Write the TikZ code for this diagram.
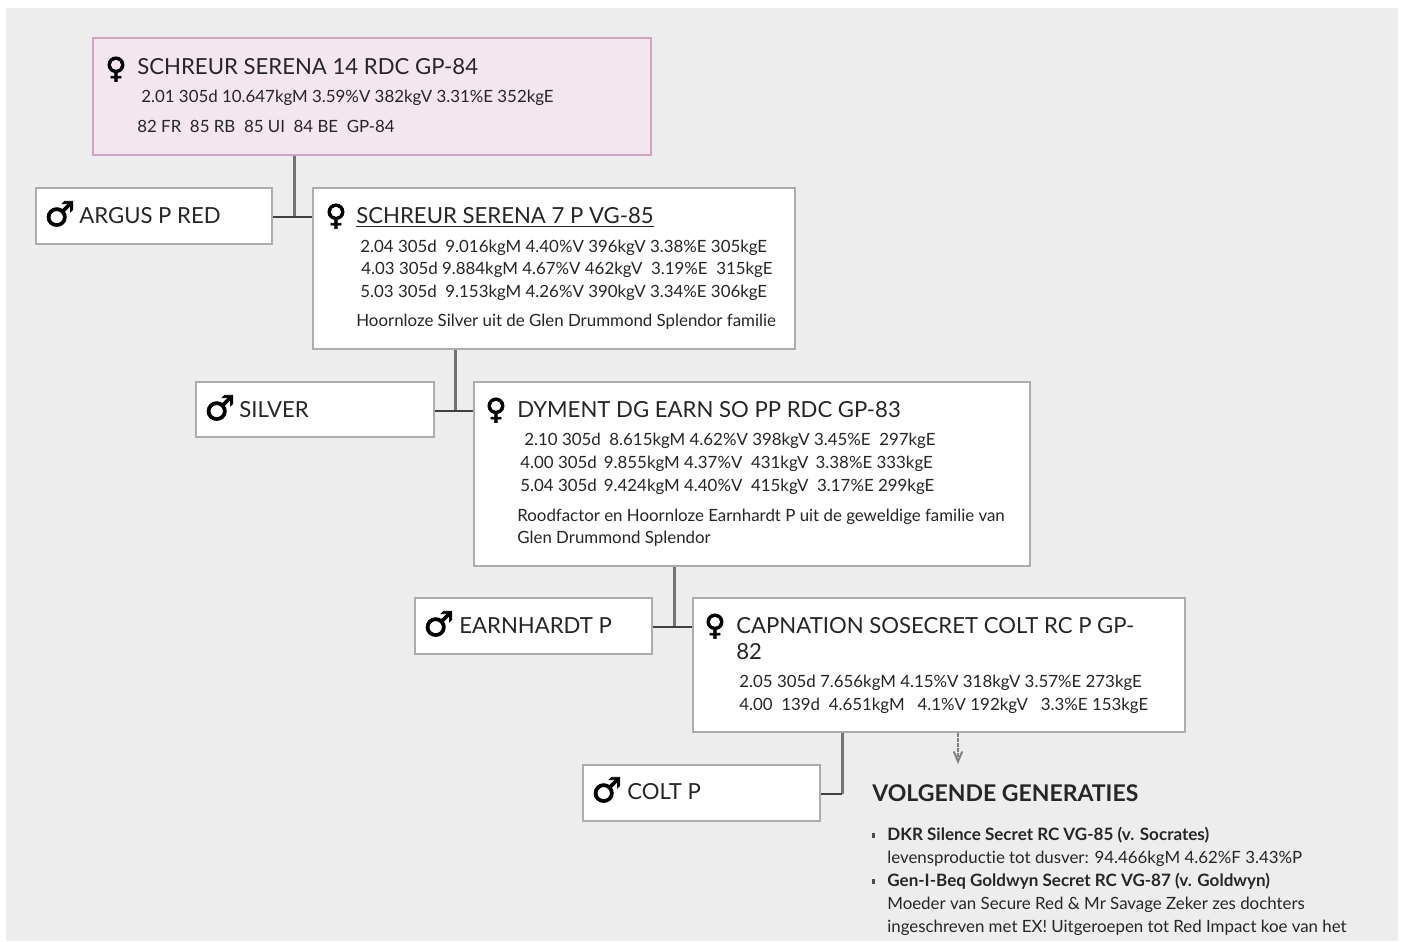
\documentclass[tikz,border=0pt]{standalone}
\usepackage{fontspec}
\setmainfont[Ligatures=NoCommon]{Lato}
\newfontfamily\symfont[FakeBold=2.2]{DejaVu Sans}
\usetikzlibrary{arrows}
\definecolor{pagegrey}{HTML}{EDEDED}
\definecolor{boxline}{HTML}{ADADAD}
\definecolor{pinkfill}{HTML}{F3E6EF}
\definecolor{pinkline}{HTML}{CFA2C6}
\definecolor{inktext}{HTML}{262626}
\tikzset{
  cowbox/.style={draw=boxline,fill=white,line width=0.04cm,inner sep=0pt},
  topbox/.style={cowbox,draw=pinkline,fill=pinkfill},
  titletext/.style={anchor=base west,inner sep=0pt,yshift=-0.015cm,text=inktext,font=\fontsize{12.6}{14}\selectfont},
  detailtext/.style={anchor=base west,inner sep=0pt,yshift=-0.015cm,text=inktext,font=\fontsize{9.6}{11}\selectfont},
  boldtext/.style={detailtext,font=\fontsize{9.7}{11}\bfseries\selectfont},
  femsign/.style={anchor=base west,inner sep=0pt,text=black,font=\symfont\fontsize{16.5}{18}\selectfont},
  malesign/.style={anchor=base west,inner sep=0pt,text=black,font=\symfont\fontsize{19.5}{21}\selectfont},
  stemline/.style={draw=black!55,line width=0.06cm},
  armline/.style={draw=black!75,line width=0.04cm}
}
\begin{document}
\begin{tikzpicture}[line cap=butt,>=angle 45,x=0.02cm,y=-0.02cm]
      \useasboundingbox (0,0) rectangle (1406,941);
      \fill[pagegrey] (6,8) rectangle (1398,941);
      % boxes
      \node[topbox,minimum width=11.18cm,minimum height=2.34cm] (serena14) at (372,96.5) {};
      \node[cowbox,minimum width=4.74cm,minimum height=1.12cm] (argus) at (154,216) {};
      \node[cowbox,minimum width=9.66cm,minimum height=3.22cm] (serena7) at (554,268.5) {};
      \node[cowbox,minimum width=4.76cm,minimum height=1.1cm] (silver) at (315,409.5) {};
      \node[cowbox,minimum width=11.14cm,minimum height=3.68cm] (dyment) at (752,474) {};
      \node[cowbox,minimum width=4.76cm,minimum height=1.12cm] (earnhardt) at (533.5,626) {};
      \node[cowbox,minimum width=9.86cm,minimum height=2.68cm] (capnation) at (939,665) {};
      \node[cowbox,minimum width=4.76cm,minimum height=1.12cm] (colt) at (701.5,793) {};
      % connectors
      \coordinate (join1) at (294,217);
      \coordinate (join2) at (455,411);
      \coordinate (join3) at (674,627);
      \coordinate (join4) at (842,794);
      \coordinate (nextgen) at (958,764);
      \draw[stemline] (serena14.south -| join1) -- (join1);
      \draw[armline] (argus.east |- join1) -- (serena7.west |- join1);
      \draw[stemline] (serena7.south -| join2) -- (join2);
      \draw[armline] (silver.east |- join2) -- (dyment.west |- join2);
      \draw[stemline] (dyment.south -| join3) -- (join3);
      \draw[armline] (earnhardt.east |- join3) -- (capnation.west |- join3);
      \draw[stemline] (capnation.south -| join4) -- (join4);
      \draw[armline] (colt.east |- join4) -- (join4);
      \draw[->,dash pattern=on 0.07cm off 0.03cm,draw=black!50,line width=0.04cm] (capnation.south -| nextgen) -- (nextgen);
      % signs
      \foreach \n/\x/\y in {signa/105/78,signb/325/225,signc/485/419,signd/704/635}
      \node[femsign] (\n) at (\x,\y) {♀};
      \foreach \n/\x/\y in {sige/44/226,sigf/204/420,sigg/423/636,sigh/591/802}
      \node[malesign] (\n) at (\x,\y) {♂};
      % names
      \foreach \n/\x/\y/\t in {ta/137/74/SCHREUR SERENA 14 RDC GP-84,tb/79/223/ARGUS P RED,
        td/239/417/SILVER,te/517/417/DYMENT DG EARN SO PP RDC GP-83,tf/459/633/EARNHARDT P,
        tg/736/633/CAPNATION SOSECRET COLT RC P GP-,th/736/659/82,ti/627/799/COLT P}
      \node[titletext] (\n) at (\x,\y) {\t};
      \node[titletext] (tc) at (356,223) {\underline{SCHREUR SERENA 7 P VG-85}};
      % production lines
      \foreach \n/\x/\y/\t in {
        da/141/102/2.01 305d 10.647kgM 3.59\%V 382kgV 3.31\%E 352kgE,
        db/137/132/82 FR~ 85 RB~ 85 UI~ 84 BE~ GP-84,
        dc/360/252/2.04 305d~ 9.016kgM 4.40\%V 396kgV 3.38\%E 305kgE,
        dd/361/274/4.03 305d 9.884kgM 4.67\%V 462kgV~ 3.19\%E~ 315kgE,
        de/360/297/5.03 305d~ 9.153kgM 4.26\%V 390kgV 3.34\%E 306kgE,
        df/356/326/Hoornloze Silver uit de Glen Drummond Splendor familie,
        dg/524/445/2.10 305d~ 8.615kgM 4.62\%V 398kgV 3.45\%E~ 297kgE,
        dh/520/468/4.00 305d\, 9.855kgM 4.37\%V~ 431kgV\, 3.38\%E 333kgE,
        di/520/491/5.04 305d\, 9.424kgM 4.40\%V~ 415kgV~ 3.17\%E 299kgE,
        dj/517/521/Roodfactor en Hoornloze Earnhardt P uit de geweldige familie van,
        dk/517/543/Glen Drummond Splendor,
        dl/739/687/2.05 305d 7.656kgM 4.15\%V 318kgV 3.57\%E 273kgE,
        dm/739/710/4.00~ 139d~ 4.651kgM~~ 4.1\%V 192kgV~~ 3.3\%E 153kgE,
        dn/887/863/levensproductie tot dusver: 94.466kgM 4.62\%F 3.43\%P,
        do/887/909/Moeder van Secure Red \& Mr Savage Zeker zes dochters,
        dp/887/932/ingeschreven met EX! Uitgeroepen tot Red Impact koe van het}
      \node[detailtext] (\n) at (\x,\y) {\t};
      % next generations
      \node[titletext,font=\fontsize{13.1}{15}\bfseries\selectfont] (volgende) at (872,801) {VOLGENDE GENERATIES};
      \node[boldtext] (silence) at (887,840) {DKR Silence Secret RC VG-85 (v. Socrates)};
      \node[boldtext] (goldwyn) at (887,886) {Gen-I-Beq Goldwyn Secret RC VG-87 (v. Goldwyn)};
      \fill[black!70] (872,833) rectangle (875,838);
      \fill[black!70] (872,879) rectangle (875,884);
\end{tikzpicture}
\end{document}
